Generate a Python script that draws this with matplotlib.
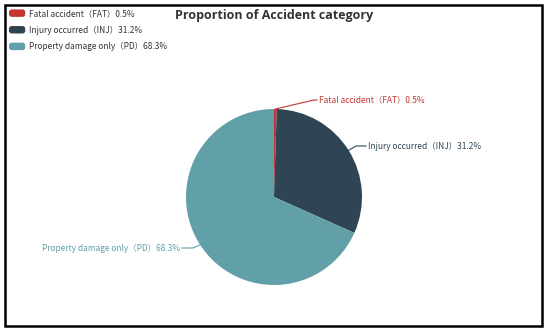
import numpy as np
import matplotlib.pyplot as plt
from matplotlib.patches import Rectangle, FancyBboxPatch
from matplotlib.legend_handler import HandlerPatch

plt.rcParams['font.family'] = ['Noto Sans CJK SC', 'DejaVu Sans']

labels = ['Fatal accident（FAT）', 'Injury occurred（INJ）', 'Property damage only（PD）']
shares = [0.5, 31.2, 68.3]
colors = ['#c23531', '#2f4554', '#61a0a8']

W, H = 550, 333
fig = plt.figure(figsize=(W / 100, H / 100), dpi=100)
ax = fig.add_axes([0, 0, 1, 1])

cx, cy, r = 274, H - 197, 88
wedges, _ = ax.pie(shares, colors=colors, startangle=90, counterclock=False,
                   center=(cx, cy), radius=r, frame=True,
                   wedgeprops=dict(linewidth=0))
ax.set_xlim(0, W)
ax.set_ylim(0, H)
ax.set_aspect('equal')
ax.axis('off')

# leader lines: elbow and label anchor in pixel space, one per slice
elbows = [(314, H - 100), (356, H - 146), (193, H - 248)]
ends = [(317, H - 100), (366, H - 146), (182, H - 248)]
for lab, val, col, w, el, en in zip(labels, shares, colors, wedges, elbows, ends):
    mid = np.deg2rad((w.theta1 + w.theta2) / 2)
    px, py = cx + r * np.cos(mid), cy + r * np.sin(mid)
    ax.plot([px, el[0], en[0]], [py, el[1], en[1]], color=col, lw=0.8)
    ha = 'left' if en[0] > cx else 'right'
    dx = 2 if ha == 'left' else -2
    ax.text(en[0] + dx, en[1], f'{lab}{val}%', color=col, fontsize=6.0,
            ha=ha, va='center')

ax.text(274, H - 16, 'Proportion of Accident category', fontsize=9.0,
        fontweight='bold', color='#333333', ha='center', va='center',
        family=['Open Sans', 'DejaVu Sans'])


class RoundBox(HandlerPatch):
    def create_artists(self, legend, orig, xd, yd, width, height, fontsize, trans):
        p = FancyBboxPatch((-xd, -yd), width, height,
                           boxstyle='round,pad=0,rounding_size=2',
                           facecolor=orig.get_facecolor(), edgecolor='none',
                           transform=trans)
        return [p]


leg = ax.legend(wedges, [f'{l}{v}%' for l, v in zip(labels, shares)],
                loc='upper left', bbox_to_anchor=(9 / W, 1 - 9 / H),
                frameon=False, fontsize=6.0, handlelength=1.95, handleheight=1.0,
                handletextpad=0.45, labelspacing=0.9, borderaxespad=0,
                borderpad=0, handler_map={w: RoundBox() for w in wedges})
for t in leg.get_texts():
    t.set_color('#333333')

ax.add_patch(Rectangle((5, 7), 537, 321, fill=False, edgecolor='black',
                       linewidth=1.8, clip_on=False))

fig.savefig('out.png', dpi=100)
